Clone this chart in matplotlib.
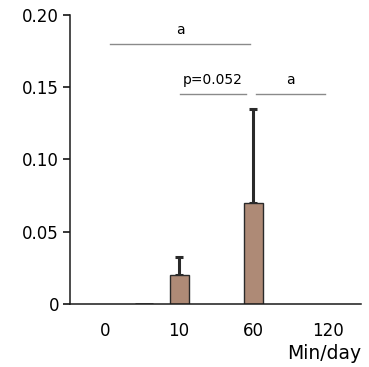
import matplotlib
matplotlib.use("Agg")
import matplotlib.pyplot as plt

plt.rcParams['font.family'] = ['DejaVu Sans']

# data
categories = ['0', '10', '60', '120']
values = [0.0, 0.02, 0.07, 0.0]
errors = [0.0, 0.0125, 0.0647, 0.0]

# significance brackets: (start, end, height, label)
brackets = [(0.07, 1.96, 0.180, 'a'),
            (1.01, 1.90, 0.1455, 'p=0.052'),
            (2.04, 2.96, 0.1455, 'a')]

fig = plt.figure(figsize=(3.69, 3.67), dpi=100)
ax = fig.add_axes([0.19, 0.171, 0.788, 0.789])

xs = list(range(len(categories)))
bar_color = '#ae8a76'
for x, v, e in zip(xs, values, errors):
    if v > 0:
        ax.bar(x, v, width=0.26, color=bar_color, edgecolor='#2a2a2a', linewidth=1.0, zorder=2)
        ax.errorbar(x, v, yerr=[[0], [e]], fmt='none', ecolor='#2a2a2a',
                    elinewidth=2.2, capsize=3, capthick=2.2, zorder=1)

# small stray zero-height bar between 0 and 10
ax.hlines(0, 0.40, 0.65, color='#2a2a2a', linewidth=2.0, zorder=3)

for x0, x1, h, lab in brackets:
    ax.plot([x0, x1], [h, h], color='#8a8a8a', linewidth=1.0)
    ax.text((x0 + x1) / 2, h + 0.0095, lab, ha='center', va='center', fontsize=10)

ax.set_xlim(-0.47, 3.45)
ax.set_ylim(0, 0.2)
ax.set_yticks([0, 0.05, 0.10, 0.15, 0.20])
ax.set_yticklabels(['0', '0.05', '0.10', '0.15', '0.20'])
ax.set_xticks(xs)
ax.set_xticklabels(categories)
ax.tick_params(axis='y', length=5, width=1.1, labelsize=12, pad=3)
ax.tick_params(axis='x', length=0, labelsize=12, pad=13)

for s in ['top', 'right']:
    ax.spines[s].set_visible(False)
for s in ['left', 'bottom']:
    ax.spines[s].set_linewidth(1.1)
    ax.spines[s].set_color('#1a1a1a')

ax.text(1.0, -0.17, 'Min/day', transform=ax.transAxes, ha='right', va='center', fontsize=13.5)

fig.savefig('out.png', dpi=100)
